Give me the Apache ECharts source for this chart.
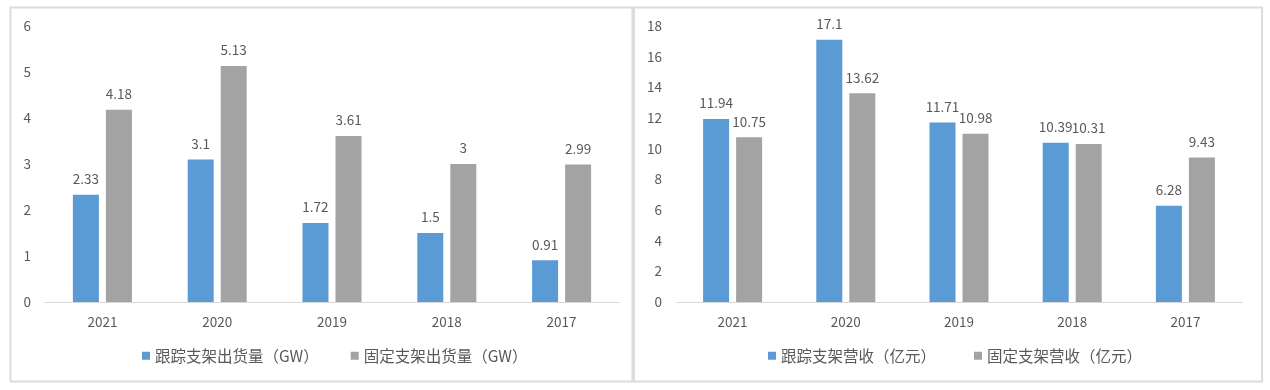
<!DOCTYPE html>
<html>
<head>
<meta charset="utf-8">
<script src="https://cdn.jsdelivr.net/npm/echarts@6/dist/echarts.min.js"></script>
<style>
html,body{margin:0;padding:0;background:#fff;}
#c{width:1270px;height:390px;}
</style>
</head>
<body>
<div id="c"></div>
<script>
const categories = ['2021', '2020', '2019', '2018', '2017'];
const trackShip = [2.33, 3.1, 1.72, 1.5, 0.91];
const fixedShip = [4.18, 5.13, 3.61, 3, 2.99];
const trackRev = [11.94, 17.1, 11.71, 10.39, 6.28];
const fixedRev = [10.75, 13.62, 10.98, 10.31, 9.43];
const leftNames = ['跟踪支架出货量（GW）', '固定支架出货量（GW）'];
const rightNames = ['跟踪支架营收（亿元）', '固定支架营收（亿元）'];

const FONT = '"Noto Sans CJK SC", "Noto Sans", sans-serif';
const TXT = '#595959';
const BLUE = '#5B9BD5';
const GRAY = '#A3A3A3';

const chart = echarts.init(document.getElementById('c'), null, {renderer: 'canvas'});

function xAxis(idx) {
  return {
    type: 'category', gridIndex: idx, data: categories,
    axisLine: {lineStyle: {color: '#d9d9d9', width: 1}},
    axisTick: {show: false},
    axisLabel: {color: TXT, fontSize: 13.5, fontFamily: FONT, margin: 13}
  };
}
function yAxis(idx, max, interval) {
  return {
    type: 'value', gridIndex: idx, min: 0, max: max, interval: interval,
    axisLine: {show: false}, axisTick: {show: false},
    splitLine: {show: false},
    axisLabel: {color: TXT, fontSize: 13.5, fontFamily: FONT, margin: 14}
  };
}
function bar(name, data, idx, color) {
  return {
    name: name, type: 'bar', xAxisIndex: idx, yAxisIndex: idx, data: data,
    barWidth: 26, barGap: '27%',
    itemStyle: {color: color},
    label: {show: true, position: 'top', distance: 9, color: TXT, fontSize: 13.5, fontFamily: FONT},
    emphasis: {disabled: true}
  };
}

chart.setOption({
  animation: false,
  backgroundColor: '#fff',
  graphic: [
    {type: 'rect', shape: {x: 10.5, y: 7.5, width: 622, height: 374}, style: {fill: 'none', stroke: '#dcdcdc', lineWidth: 2}},
    {type: 'rect', shape: {x: 634, y: 7.5, width: 628, height: 374}, style: {fill: 'none', stroke: '#dcdcdc', lineWidth: 2}}
  ],
  grid: [
    {left: 45, top: 26, width: 574, height: 276},
    {left: 676, top: 26, width: 566, height: 276}
  ],
  xAxis: [xAxis(0), xAxis(1)],
  yAxis: [yAxis(0, 6, 1), yAxis(1, 18, 2)],
  legend: [
    {data: leftNames, left: 137, top: 343, itemWidth: 8, itemHeight: 8, itemGap: 32, icon: 'rect',
     textStyle: {color: TXT, fontSize: 15.5, fontFamily: FONT}},
    {data: rightNames, left: 763, top: 343, itemWidth: 8, itemHeight: 8, itemGap: 38, icon: 'rect',
     textStyle: {color: TXT, fontSize: 15.5, fontFamily: FONT}}
  ],
  series: [
    bar(leftNames[0], trackShip, 0, BLUE),
    bar(leftNames[1], fixedShip, 0, GRAY),
    bar(rightNames[0], trackRev, 1, BLUE),
    bar(rightNames[1], fixedRev, 1, GRAY)
  ]
});
</script>
</body>
</html>
